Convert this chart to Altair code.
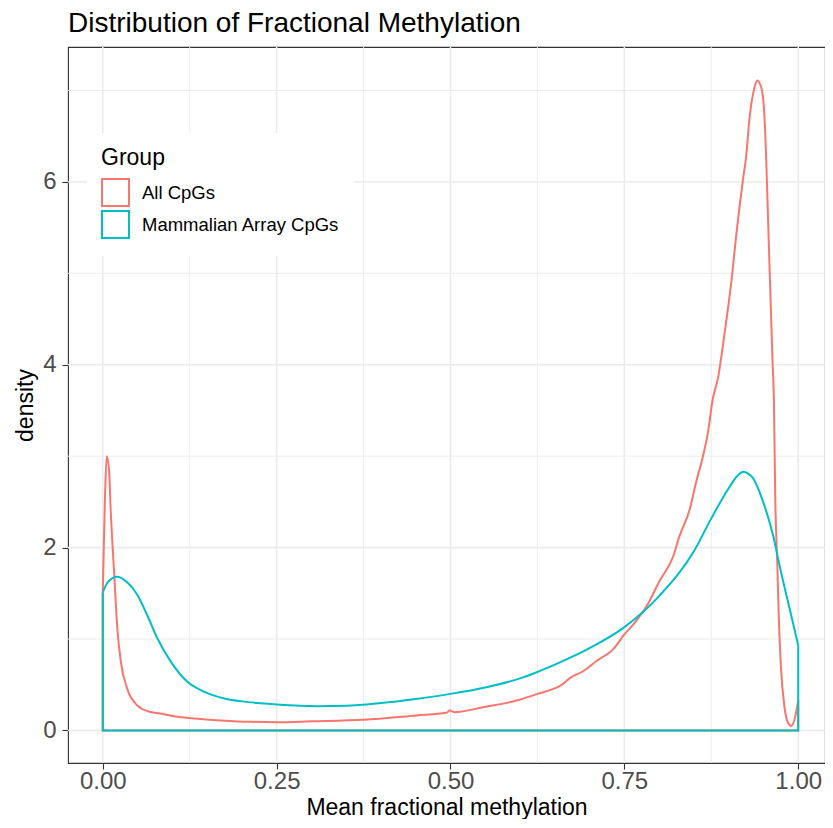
import altair as alt
import pandas as pd

groups = ["All CpGs", "Mammalian Array CpGs"]
colors = ["#F8766D", "#00BFC4"]

all_x = [0.0, 0.003, 0.0057, 0.009, 0.0115, 0.016, 0.021, 0.026, 0.035, 0.05, 0.065, 0.083,
         0.108, 0.131, 0.17, 0.212, 0.25, 0.3, 0.375, 0.451, 0.494, 0.499, 0.506, 0.547,
         0.595, 0.625, 0.662, 0.671, 0.691, 0.710, 0.734, 0.75, 0.765, 0.782, 0.801, 0.820,
         0.829, 0.844, 0.853, 0.863, 0.870, 0.877, 0.885, 0.894, 0.904, 0.911, 0.921, 0.925,
         0.930, 0.937, 0.941, 0.947, 0.951, 0.954, 0.957, 0.960, 0.963, 0.965, 0.967, 0.970,
         0.972, 0.975, 0.980, 0.985, 0.990, 0.995, 1.0]
all_y = [1.52, 2.5, 3.0, 2.85, 2.39, 1.77, 1.11, 0.75, 0.46, 0.27, 0.21, 0.185,
         0.15, 0.13, 0.11, 0.095, 0.091, 0.1, 0.116, 0.164, 0.193, 0.218, 0.2, 0.255,
         0.327, 0.40, 0.51, 0.57, 0.65, 0.76, 0.89, 1.05, 1.18, 1.36, 1.64, 1.90,
         2.12, 2.42, 2.71, 3.0, 3.25, 3.62, 3.87, 4.34, 4.92, 5.43, 6.05, 6.27,
         6.70, 7.03, 7.11, 7.03, 6.77, 6.24, 5.5, 4.77, 4.05, 3.62, 2.53, 1.80,
         1.25, 0.71, 0.27, 0.09, 0.05, 0.13, 0.33]

arr_x = [0.0, 0.007, 0.021, 0.035, 0.05, 0.064, 0.079, 0.098, 0.122, 0.14, 0.155, 0.175,
         0.2, 0.227, 0.25, 0.307, 0.35, 0.4, 0.45, 0.5, 0.55, 0.6, 0.625, 0.65,
         0.7, 0.75, 0.8, 0.85, 0.875, 0.9, 0.912, 0.921, 0.928, 0.935, 0.950, 0.964,
         0.973, 0.988, 1.0]
arr_y = [1.51, 1.62, 1.68, 1.62, 1.48, 1.26, 1.0, 0.75, 0.53, 0.445, 0.395, 0.35,
         0.318, 0.298, 0.285, 0.266, 0.27, 0.30, 0.345, 0.40, 0.47, 0.57, 0.64, 0.72,
         0.9, 1.13, 1.47, 1.96, 2.32, 2.65, 2.78, 2.83, 2.81, 2.76, 2.49, 2.13,
         1.81, 1.32, 0.93]

x_major = [0.0, 0.25, 0.5, 0.75, 1.0]
x_minor = [0.125, 0.375, 0.625, 0.875]
y_major = [0, 2, 4, 6]
y_minor = [1, 3, 5, 7]

series = {groups[0]: (all_x, all_y), groups[1]: (arr_x, arr_y)}

curve_rows = []
outline_rows = []
for g, (xs, ys) in series.items():
    for i, (xv, yv) in enumerate(zip(xs, ys)):
        curve_rows.append({"x": xv, "y": yv, "Group": g, "idx": i})
    pts = [(xs[0], ys[0]), (xs[0], 0.0), (xs[-1], 0.0), (xs[-1], ys[-1])]
    for i, (xv, yv) in enumerate(pts):
        outline_rows.append({"x": xv, "y": yv, "Group": g, "idx": i})

curve_df = pd.DataFrame(curve_rows)
outline_df = pd.DataFrame(outline_rows)

FONT = "Liberation Sans"
xscale = alt.Scale(domain=[-0.05, 1.0385], nice=False, zero=False)
yscale = alt.Scale(domain=[-0.356, 7.476], nice=False, zero=False)

xaxis = alt.Axis(values=x_major, format=".2f", title="Mean fractional methylation",
                 grid=False, domain=False, tickColor="#333333", tickSize=6, tickWidth=1.1,
                 labelFontSize=24, labelColor="#4D4D4D", labelPadding=0,
                 titleFontSize=23, titleColor="black", titleFontWeight="normal",
                 titlePadding=3, labelFont=FONT, titleFont=FONT)
yaxis = alt.Axis(values=y_major, format="d", title="density",
                 grid=False, domain=False, tickColor="#333333", tickSize=6, tickWidth=1.1,
                 labelFontSize=24, labelColor="#4D4D4D", labelPadding=6,
                 titleFontSize=23, titleColor="black", titleFontWeight="normal",
                 titlePadding=5, labelFont=FONT, titleFont=FONT)

color = alt.Color("Group:N", scale=alt.Scale(domain=groups, range=colors),
                  legend=alt.Legend(title="Group", orient="none", legendX=19, legendY=86,
                                    fillColor="white", padding=14,
                                    symbolType="square", symbolSize=729,
                                    symbolStrokeWidth=2, symbolFillColor="white",
                                    titleFontSize=23, titleFontWeight="normal",
                                    titleColor="black", titlePadding=8,
                                    labelFontSize=18.5, labelColor="black",
                                    labelOffset=12, rowPadding=-6, labelLimit=500,
                                    titleFont=FONT, labelFont=FONT))

X = alt.X("x:Q", scale=xscale, axis=xaxis)
Y = alt.Y("y:Q", scale=yscale, axis=yaxis)

gx_major = alt.Chart(pd.DataFrame({"x": x_major})).mark_rule(
    color="#EBEBEB", strokeWidth=1.6).encode(x=X)
gx_minor = alt.Chart(pd.DataFrame({"x": x_minor})).mark_rule(
    color="#EBEBEB", strokeWidth=0.9).encode(x=X)
gy_major = alt.Chart(pd.DataFrame({"y": y_major})).mark_rule(
    color="#EBEBEB", strokeWidth=1.6).encode(y=Y)
gy_minor = alt.Chart(pd.DataFrame({"y": y_minor})).mark_rule(
    color="#EBEBEB", strokeWidth=0.9).encode(y=Y)

curves = alt.Chart(curve_df).mark_line(strokeWidth=2, interpolate="monotone").encode(
    x=X, y=Y, color=color, order="idx:Q",
)
outlines = alt.Chart(outline_df).mark_line(strokeWidth=2).encode(
    x=X, y=Y, color=color, order="idx:Q",
)

chart = alt.layer(gx_minor, gy_minor, gx_major, gy_major, curves, outlines).properties(
    width=757, height=716,
    title=alt.TitleParams("Distribution of Fractional Methylation", anchor="start",
                          frame="group", fontSize=28, fontWeight="normal",
                          color="black", font=FONT, offset=8),
    autosize=alt.AutoSizeParams(type="none"),
    padding={"left": 60, "top": 39, "right": 0, "bottom": 56},
).configure_view(stroke="#333333", strokeWidth=1.1)

chart.save("out.html", embed_options={"renderer": "svg", "actions": False})
